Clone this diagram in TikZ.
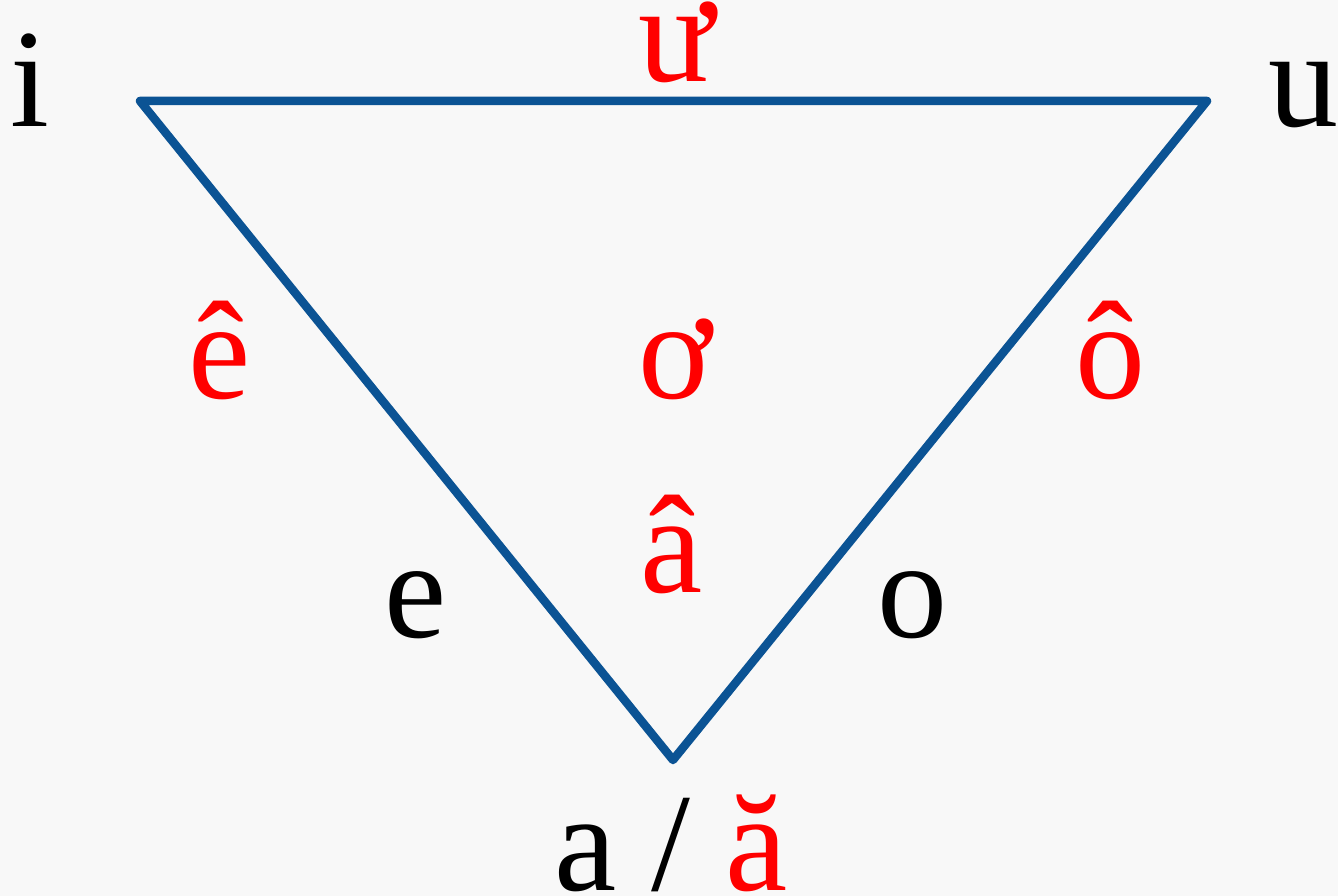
\documentclass[tikz,border=0pt]{standalone}
\usepackage{fontspec}
\setmainfont{Liberation Serif}
\definecolor{bgc}{HTML}{F8F8F8}
\definecolor{edgeblue}{HTML}{0B5394}
\definecolor{vred}{HTML}{FF0000}
\begin{document}
\begin{tikzpicture}[x=1pt,y=-1pt,
  lab/.style={anchor=base,inner sep=0pt,font=\fontsize{140}{144}\selectfont},
  blk/.style={lab,text=black},
  rd/.style={lab,text=vred},
  edge/.style={draw=edgeblue,line width=8.5pt,line join=round,line cap=round}]
\fill[bgc] (0,0) rectangle (1338,896);
\useasboundingbox (0,0) rectangle (1338,896);
\coordinate (vi) at (140,101);
\coordinate (vu) at (1207,101);
\coordinate (va) at (673,760);
\draw[edge] (vi) -- (vu) -- (va) -- cycle;
\node[blk] (ni) at (30,127) {i};
\node[rd] (nuw) at (676,82) {ư};
\node[blk,anchor=base west] (nu) at (1268,127) {u};
\node[rd] (ne) at (220,398) {ê};
\node[rd] (now) at (676,398) {ơ};
\node[rd] (no) at (1110,398) {ô};
\node[rd] (naa) at (672,592) {â};
\node[blk] (nee) at (416,637) {e};
\node[blk] (noo) at (912,637) {o};
\node[blk] (na) at (671,890) {a / \textcolor{vred}{ă}};
\end{tikzpicture}
\end{document}
